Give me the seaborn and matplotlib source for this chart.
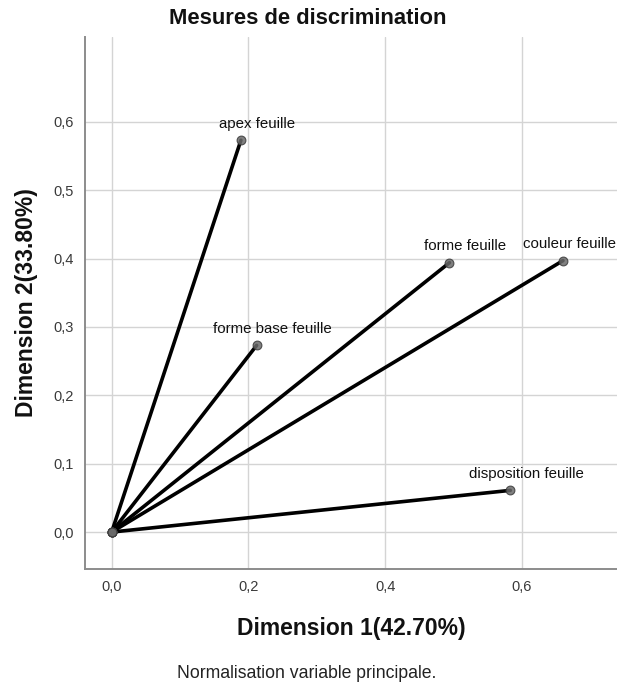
import matplotlib
matplotlib.use("Agg")
import matplotlib.pyplot as plt
import pandas as pd
import seaborn as sns

variables = ["apex feuille", "forme base feuille", "forme feuille", "couleur feuille", "disposition feuille"]
dim1 = [0.189, 0.212, 0.494, 0.660, 0.583]
dim2 = [0.573, 0.273, 0.394, 0.397, 0.061]

x_ticks = [0.0, 0.2, 0.4, 0.6]
y_ticks = [0.0, 0.1, 0.2, 0.3, 0.4, 0.5, 0.6]

sns.set_theme(style="whitegrid")
plt.rcParams["font.family"] = ["Liberation Sans", "DejaVu Sans"]

# every vector starts at the origin
rows = []
for name, x, y in zip(variables, dim1, dim2):
    rows.append({"variable": name, "dim1": 0.0, "dim2": 0.0})
    rows.append({"variable": name, "dim1": x, "dim2": y})
segments = pd.DataFrame(rows)
points = pd.DataFrame({"variable": variables, "dim1": dim1, "dim2": dim2})

fig = plt.figure(figsize=(6.17, 6.84), dpi=100)
ax = fig.add_axes([85 / 617, (684 - 569) / 684, (617 - 85) / 617, (569 - 37) / 684])

sns.lineplot(data=segments, x="dim1", y="dim2", units="variable", estimator=None,
             sort=False, color="black", linewidth=2.6, ax=ax)
sns.scatterplot(data=segments, x="dim1", y="dim2", color="#6a6a6a", edgecolor="#3a3a3a",
                linewidth=0.8, s=40, alpha=0.85, zorder=3, ax=ax)

labels = []
for _, r in points.iterrows():
    t = ax.annotate(r["variable"], (r["dim1"], r["dim2"]), xytext=(11.5, 12), textcoords="offset points",
                    ha="center", va="center", fontsize=10.8, color="#111111", annotation_clip=False)
    labels.append(t)

ax.set_xlim(-0.039, 0.739)
ax.set_ylim(-0.054, 0.724)
ax.set_xticks(x_ticks)
ax.set_yticks(y_ticks)
ax.set_xticklabels([f"{t:.1f}".replace(".", ",") for t in x_ticks])
ax.set_yticklabels([f"{t:.1f}".replace(".", ",") for t in y_ticks])
ax.tick_params(axis="both", length=0, pad=8, labelsize=10.5, colors="#3a3a3a")

ax.grid(True, color="#d4d4d4", linewidth=1.0)
for side in ["top", "right"]:
    ax.spines[side].set_visible(False)
for side in ["left", "bottom"]:
    ax.spines[side].set_color("#8c8c8c")
    ax.spines[side].set_linewidth(1.4)

ax.set_xlabel("Dimension 1(42.70%)", fontsize=16.5, fontweight="bold", color="#111111", va="center")
ax.set_ylabel("Dimension 2(33.80%)", fontsize=16.5, fontweight="bold", color="#111111", va="center")
ax.xaxis.set_label_coords(0.5, (569 - 629) / 532)
ax.yaxis.set_label_coords((27 - 85) / 532, 0.5)

fig.text(308 / 617, 1 - 18 / 684, "Mesures de discrimination", ha="center", va="center",
         fontsize=15.8, fontweight="bold", color="#111111")
fig.text(307 / 617, 1 - 674 / 684, "Normalisation variable principale.", ha="center", va="center",
         fontsize=12.7, color="#222222")

# keep point labels inside the figure, as the original does
fig.canvas.draw()
renderer = fig.canvas.get_renderer()
for t in labels:
    bb = t.get_window_extent(renderer)
    overflow = bb.x1 - (fig.bbox.width - 1)
    if overflow > 0:
        dx, dy = t.get_position()
        t.set_position((dx - overflow * 72 / fig.dpi, dy))

fig.savefig("out.png", dpi=100)
